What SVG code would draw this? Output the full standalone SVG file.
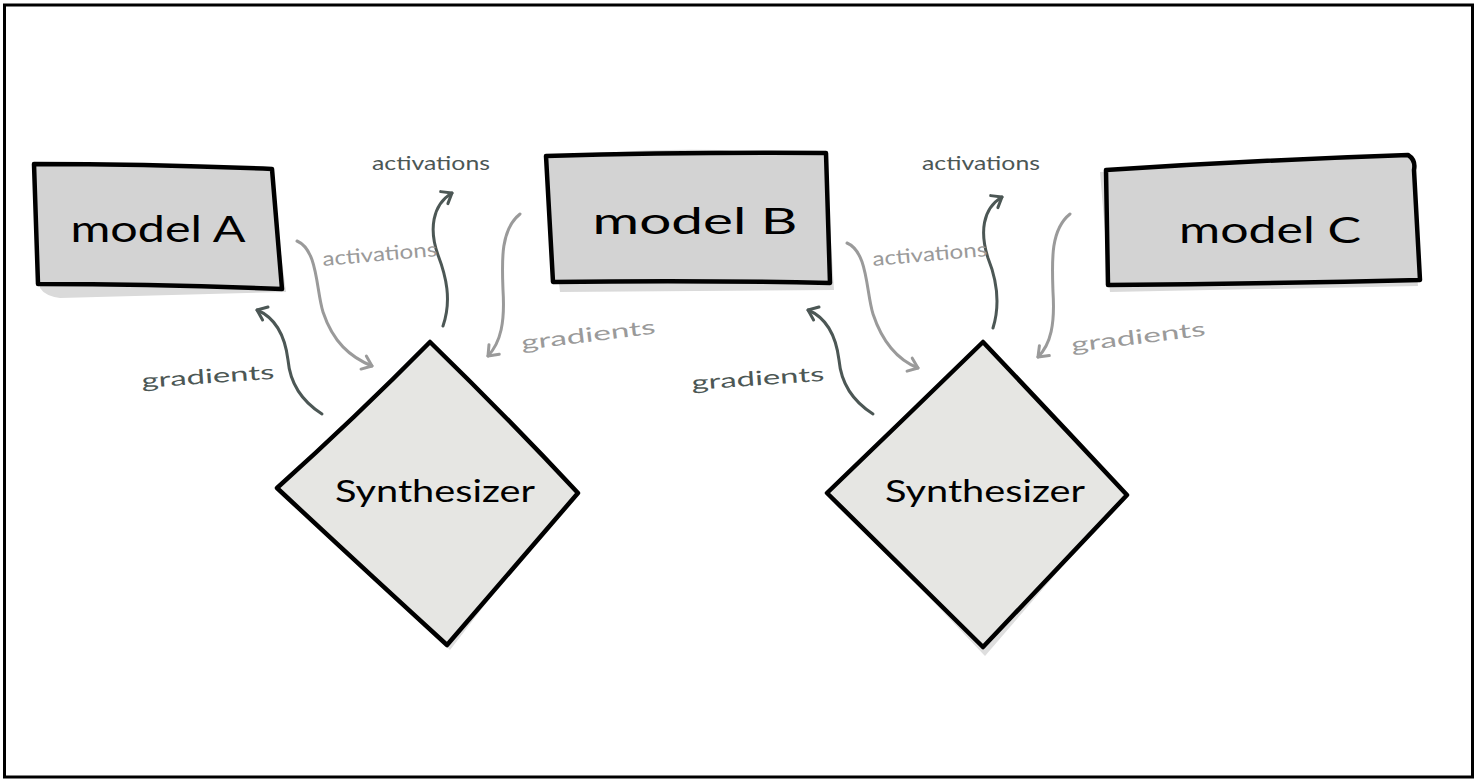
<svg xmlns="http://www.w3.org/2000/svg" width="1476" height="782" viewBox="0 0 1476 782">
<style>
.frame{fill:#fff;stroke:#000;stroke-width:3}
.box{fill:#d3d3d3;stroke:#000;stroke-width:4.5;stroke-linejoin:round}
.boxsh{fill:#dadada;stroke:none}
.dia{fill:#e6e6e3;stroke:#000;stroke-width:4.5;stroke-linejoin:round}
.diash{fill:#dedede;stroke:none}
.lbl{font-family:"Lato","Open Sans",sans-serif;fill:#000}
.dk{fill:none;stroke:#4c5755;stroke-width:3;stroke-linecap:round}
.lt{fill:none;stroke:#9a9a9a;stroke-width:3;stroke-linecap:round}
.tdk{font-family:"Lato","Open Sans",sans-serif;fill:#4c5755;font-size:20px}
.tlt{font-family:"Lato","Open Sans",sans-serif;fill:#9a9a9a;font-size:20px}
</style>
<defs>
<marker id="hd" viewBox="-12 -10 14 20" refX="0" refY="0" markerWidth="14" markerHeight="20" markerUnits="userSpaceOnUse" orient="auto">
<path d="M-9,-7 L0,0 L-9,7" fill="none" stroke="#4c5755" stroke-width="3" stroke-linecap="round" stroke-linejoin="round"/>
</marker>
<marker id="hl" viewBox="-12 -10 14 20" refX="0" refY="0" markerWidth="14" markerHeight="20" markerUnits="userSpaceOnUse" orient="auto">
<path d="M-9,-7 L0,0 L-9,7" fill="none" stroke="#9a9a9a" stroke-width="3" stroke-linecap="round" stroke-linejoin="round"/>
</marker>
</defs>
<rect class="frame" x="4.5" y="5" width="1468" height="772"/>

<g id="modelA">
<path class="boxsh" d="M40,172 L270,170 L286,292 L60,298 Q45,296 40,288 Z"/>
<path class="box" d="M34,164 Q150,164 272,169 L282,289 Q160,284 38,284 Z"/>
<text class="lbl" x="158" y="242" font-size="36" text-anchor="middle" textLength="175" lengthAdjust="spacingAndGlyphs">model  A</text>
</g>

<g id="modelB">
<path class="boxsh" d="M546,162 Q600,148 720,150 L826,158 L834,290 L560,292 Z"/>
<path class="box" d="M546,156 Q690,152 826,153 L830,283 Q700,280 553,282 Z"/>
<text class="lbl" x="695" y="234" font-size="36" text-anchor="middle" textLength="205" lengthAdjust="spacingAndGlyphs">model   B</text>
</g>

<g id="modelC">
<path class="boxsh" d="M1100,172 L1408,160 L1418,286 L1110,292 Z"/>
<path class="box" d="M1106,170 Q1260,160 1408,155 Q1416,160 1414,170 L1420,280 Q1260,284 1108,285 Z"/>
<text class="lbl" x="1270" y="243" font-size="36" text-anchor="middle" textLength="182" lengthAdjust="spacingAndGlyphs">model C</text>
</g>

<g id="synth1">
<path class="diash" d="M432,348 L572,492 L450,650 L282,490 Z"/>
<path class="dia" d="M430,342 Q505,415 578,493 L447,645 Q365,570 277,488 Q355,418 430,342 Z"/>
<text class="lbl" x="435" y="502" font-size="30" text-anchor="middle" textLength="200" lengthAdjust="spacingAndGlyphs">Synthesizer</text>
</g>

<g id="synth2">
<path class="diash" d="M985,348 L1124,495 L985,656 L832,495 Z"/>
<path class="dia" d="M983,342 Q1055,418 1127,495 L983,647 Q905,570 827,493 Q905,418 983,342 Z"/>
<text class="lbl" x="985" y="502" font-size="30" text-anchor="middle" textLength="200" lengthAdjust="spacingAndGlyphs">Synthesizer</text>
</g>

<g id="connectors">
<path class="lt" marker-end="url(#hl)" d="M297,241 C318,250 316,290 323,312 C333,342 350,357 372,366"/>
<path class="dk" marker-end="url(#hd)" d="M443,326 C452,300 446,276 438,255 C429,230 432,205 452,193"/>
<path class="lt" marker-end="url(#hl)" d="M520,214 C500,230 502,262 503,290 C505,322 501,342 488,356"/>
<path class="dk" marker-end="url(#hd)" d="M322,414 C300,400 290,382 288,360 C285,336 276,318 257,310"/>

<path class="lt" marker-end="url(#hl)" d="M847,243 C868,252 866,292 873,314 C883,344 898,360 918,368"/>
<path class="dk" marker-end="url(#hd)" d="M993,328 C1001,302 996,278 988,258 C980,233 982,209 1002,197"/>
<path class="lt" marker-end="url(#hl)" d="M1070,214 C1050,230 1052,262 1053,292 C1055,324 1051,344 1038,357"/>
<path class="dk" marker-end="url(#hd)" d="M873,414 C851,400 841,382 839,360 C836,336 827,318 808,310"/>

<text class="tdk" x="372" y="170" textLength="118" lengthAdjust="spacingAndGlyphs">activations</text>
<text class="tlt" x="323" y="266" transform="rotate(-5 323 266)" textLength="115" lengthAdjust="spacingAndGlyphs">activations</text>
<text class="tdk" x="142" y="388" font-size="23" transform="rotate(-4 142 388)" textLength="133" lengthAdjust="spacingAndGlyphs">gradients</text>
<text class="tlt" x="522" y="350" font-size="23" transform="rotate(-7 522 350)" textLength="135" lengthAdjust="spacingAndGlyphs">gradients</text>

<text class="tdk" x="922" y="170" textLength="118" lengthAdjust="spacingAndGlyphs">activations</text>
<text class="tlt" x="873" y="266" transform="rotate(-5 873 266)" textLength="115" lengthAdjust="spacingAndGlyphs">activations</text>
<text class="tdk" x="692" y="390" font-size="23" transform="rotate(-4 692 390)" textLength="133" lengthAdjust="spacingAndGlyphs">gradients</text>
<text class="tlt" x="1072" y="352" font-size="23" transform="rotate(-7 1072 352)" textLength="135" lengthAdjust="spacingAndGlyphs">gradients</text>
</g>
</svg>
